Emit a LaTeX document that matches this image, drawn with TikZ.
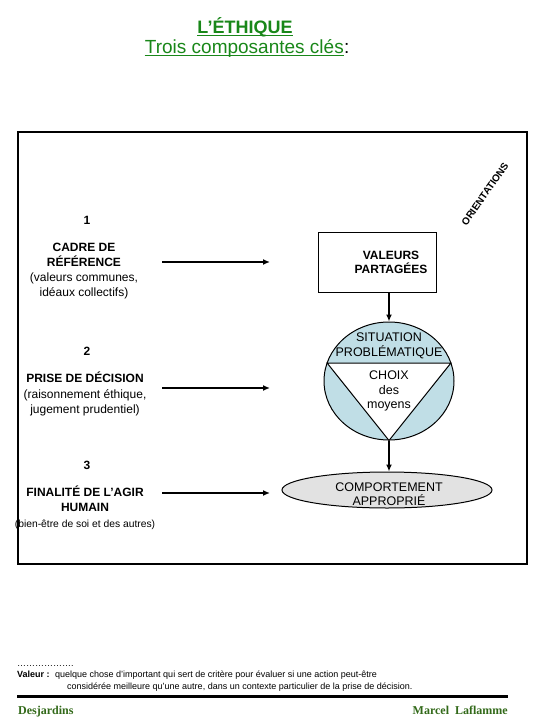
\documentclass[tikz,border=0pt]{standalone}
\usepackage{fontspec}
\setmainfont{Liberation Sans}
\newfontfamily\footserif{Liberation Serif}
\usetikzlibrary{shapes.geometric,arrows.meta}
\definecolor{titlegreen}{RGB}{25,135,25}
\definecolor{footgreen}{RGB}{50,105,25}
\definecolor{situblue}{RGB}{192,222,230}
\definecolor{compgray}{RGB}{226,226,226}

\begin{document}
\begin{tikzpicture}[x=1pt,y=-1pt,
  lbl/.style={align=center, inner sep=0pt, font=\fontsize{12}{15.3}\selectfont},
  inlbl/.style={align=center, inner sep=0pt, font=\fontsize{12.5}{14.5}\selectfont},
  num/.style={inner sep=0pt, font=\fontsize{12}{14}\selectfont\bfseries},
  foot/.style={inner sep=0pt, font=\fontsize{9}{11}\selectfont},
  sign/.style={inner sep=0pt, text=footgreen, font=\fontsize{12}{14}\selectfont\footserif\bfseries},
  souligne/.style={titlegreen, line width=1pt},
  flow/.style={-{Latex[length=7pt,width=6pt]}, line width=1.8pt}]
\useasboundingbox (0,0) rectangle (540,720);

\node[inner sep=0pt, text=titlegreen, font=\fontsize{18}{20}\selectfont\bfseries] (titre) at (245,27) {L’ÉTHIQUE};
\draw[souligne] ([yshift=-2pt]titre.base west) -- ([yshift=-2pt]titre.base east);
\node[inner sep=0pt, anchor=base east, text=titlegreen, font=\fontsize{19}{21}\selectfont] (soustitre) at (344,53) {Trois composantes clés};
\node[inner sep=0pt, anchor=base west, font=\fontsize{19}{21}\selectfont] (deuxpoints) at (soustitre.base east) {:};
\draw[souligne] ([yshift=-2.5pt]soustitre.base west) -- ([yshift=-2.5pt]soustitre.base east);

\draw[line width=1.3pt] (18,132) rectangle (527,564);
\node[rotate=55, inner sep=0pt, font=\fontsize{10}{10}\selectfont\bfseries] (orient) at (485,194) {ORIENTATIONS};

\node[num] (un) at (87,220) {1};
\node[lbl] (cadre) at (84,271) {\textbf{CADRE DE}\\\textbf{RÉFÉRENCE}\\(valeurs communes,\\idéaux collectifs)};
\node[num] (deux) at (87,351) {2};
\node[lbl] (prise) at (85,394) {\textbf{PRISE DE DÉCISION}\\(raisonnement éthique,\\jugement prudentiel)};
\node[num] (trois) at (87,465) {3};
\node[lbl] (finalite) at (85,507.5) {\textbf{FINALITÉ DE L’AGIR}\\\textbf{HUMAIN}\\{\fontsize{10.3}{12}\selectfont(bien-être de soi et des autres)}};

\node[draw, rectangle, line width=1pt, minimum width=118pt, minimum height=60pt] (valeurs) at (377,262) {};
\node[inlbl, font=\fontsize{12}{14}\selectfont\bfseries] (valtexte) at (391,262) {VALEURS\\PARTAGÉES};

\node[draw, ellipse, line width=1pt, fill=situblue, inner sep=0pt, minimum width=130pt, minimum height=118pt] (situ) at (389,381) {};
\coordinate (trig) at (327.1,363);
\coordinate (trid) at (450.9,363);
\draw[line width=1pt, fill=white] (trig) -- (trid) -- (situ.south) -- cycle;
\node[inlbl] (situtexte) at (389,346) {SITUATION\\PROBLÉMATIQUE};
\node[inlbl] (choix) at (389,391) {CHOIX\\des\\moyens};

\node[draw, ellipse, line width=1pt, fill=compgray, inner sep=0pt, minimum width=210pt, minimum height=36pt] (comport) at (387,490) {};
\node[inlbl] (comptexte) at (389,494) {COMPORTEMENT\\APPROPRIÉ};

\draw[flow] (valeurs.south -| situ.north) -- (situ.north);
\draw[flow] (situ.south) -- (situ.south |- comport.north);

\coordinate (d1) at (162,262);
\coordinate (f1) at (270,262);
\coordinate (d2) at (162,388);
\coordinate (f2) at (270,388);
\coordinate (d3) at (162,493);
\coordinate (f3) at (270,493);
\draw[flow] (d1) -- (f1);
\draw[flow] (d2) -- (f2);
\draw[flow] (d3) -- (f3);

\node[foot, anchor=base west] (points) at (17,666) {……………….};
\node[foot, anchor=base west] (valeur) at (17,677) {\textbf{Valeur :}};
\node[foot, anchor=base west] (def1) at (55,677) {quelque chose d’important qui sert de critère pour évaluer si une action peut-être};
\node[foot, anchor=base west] (def2) at (67,689) {considérée meilleure qu’une autre, dans un contexte particulier de la prise de décision.};
\coordinate (trg) at (17,696);
\coordinate (trd) at (508,696);
\draw[line width=3pt] (trg) -- (trd);
\node[sign, anchor=base west] (desj) at (18,714) {Desjardins};
\node[sign, anchor=base east] (auteur) at (508,714) {Marcel\ \ Laflamme};

\end{tikzpicture}
\end{document}
